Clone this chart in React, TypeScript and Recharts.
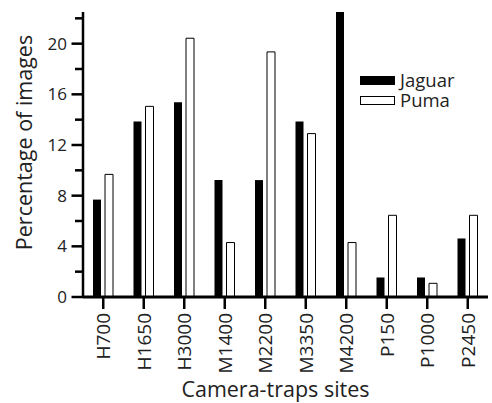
import React from 'react';
import { BarChart, Bar, XAxis, YAxis, Legend } from 'recharts';

const sites = ['H700', 'H1650', 'H3000', 'M1400', 'M2200', 'M3350', 'M4200', 'P150', 'P1000', 'P2450'];
const jaguar = [7.69, 13.85, 15.38, 9.23, 9.23, 13.85, 23.08, 1.54, 1.54, 4.62];
const puma = [9.68, 15.05, 20.43, 4.3, 19.35, 12.9, 4.3, 6.45, 1.08, 6.45];
const yTicks = [0, 2, 4, 6, 8, 10, 12, 14, 16, 18, 20, 22];
const yLabelled = [0, 4, 8, 12, 16, 20];

const data = sites.map((s, i) => ({ site: s, Jaguar: jaguar[i], Puma: puma[i] }));

const FONT = '"Open Sans", sans-serif';

const YTick = (props: any) => {
  const { x, y, payload } = props;
  const v = payload.value;
  const major = yLabelled.includes(v);
  const len = major ? 11.5 : 8;
  return (
    <g>
      <line x1={x - len} x2={x} y1={y} y2={y} stroke="#000" strokeWidth={2.5} />
      {major && (
        <text x={x - 16} y={y} dy="0.36em" textAnchor="end" fontSize={17} fontFamily={FONT} fill="#222">
          {v}
        </text>
      )}
    </g>
  );
};

const XTick = (props: any) => {
  const { x, y, payload } = props;
  return (
    <text
      x={x}
      y={y}
      dy="0.36em"
      textAnchor="end"
      transform={`rotate(-90, ${x}, ${y})`}
      fontSize={19}
      fontFamily={FONT}
      fill="#222"
    >
      {payload.value}
    </text>
  );
};

const XTitle = (props: any) => {
  const vb = props.viewBox;
  return (
    <text x={vb.x + vb.width / 2 - 10} y={vb.y + vb.height - 6} textAnchor="middle" fontSize={21.5} fontFamily={FONT} fill="#222">
      Camera-traps sites
    </text>
  );
};

const YTitle = (props: any) => {
  const vb = props.viewBox;
  const cx = 24;
  const cy = vb.y + vb.height / 2 - 12;
  return (
    <text x={cx} y={cy} dy="0.36em" textAnchor="middle" transform={`rotate(-90, ${cx}, ${cy})`} fontSize={21.5} fontFamily={FONT} fill="#222">
      Percentage of images
    </text>
  );
};

const LegendBox = (props: any) => {
  const items = [
    { name: 'Jaguar', fill: '#000' },
    { name: 'Puma', fill: '#fff' },
  ];
  return (
    <div style={{ fontFamily: FONT, fontSize: 18.5, color: '#222', lineHeight: '20px' }}>
      {items.map((it) => (
        <div key={it.name} style={{ display: 'flex', alignItems: 'center', height: 20 }}>
          <span
            style={{
              display: 'inline-block',
              width: it.fill === '#000' ? 35 : 33,
              height: it.fill === '#000' ? 9 : 7,
              background: it.fill,
              border: it.fill === '#000' ? 'none' : '1px solid #000',
              marginRight: 5,
            }}
          />
          <span>{it.name}</span>
        </div>
      ))}
    </div>
  );
};

export default function App() {
  return (
    <div style={{ position: 'absolute', left: 0, top: 0, background: '#fff' }}>
      <BarChart
        width={492}
        height={403}
        data={data}
        margin={{ top: 12, right: 4, left: 0, bottom: 0 }}
        barSize={8}
        barGap={4}
      >
        <XAxis
          dataKey="site"
          height={106}
          axisLine={{ stroke: '#000', strokeWidth: 3 }}
          tickLine={{ stroke: '#000', strokeWidth: 2.5 }}
          tickSize={12}
          tickMargin={4}
          tick={<XTick />}
          interval={0}
          label={{ content: <XTitle /> }}
        />
        <YAxis
          width={83}
          domain={[0, 22.5]}
          ticks={yTicks}
          allowDataOverflow
          axisLine={{ stroke: '#000', strokeWidth: 2.5 }}
          tickLine={false}
          tickSize={0}
          tickMargin={0}
          tick={<YTick />}
          interval={0}
          label={{ content: <YTitle /> }}
        />
        <Legend
          layout="vertical"
          align="center"
          verticalAlign="middle"
          content={<LegendBox />}
          wrapperStyle={{ position: 'absolute', left: 360, top: 70, width: 120, height: 42 }}
        />
        <Bar dataKey="Jaguar" fill="#000" isAnimationActive={false} />
        <Bar dataKey="Puma" fill="#fff" stroke="#000" strokeWidth={1} isAnimationActive={false} />
      </BarChart>
    </div>
  );
}
